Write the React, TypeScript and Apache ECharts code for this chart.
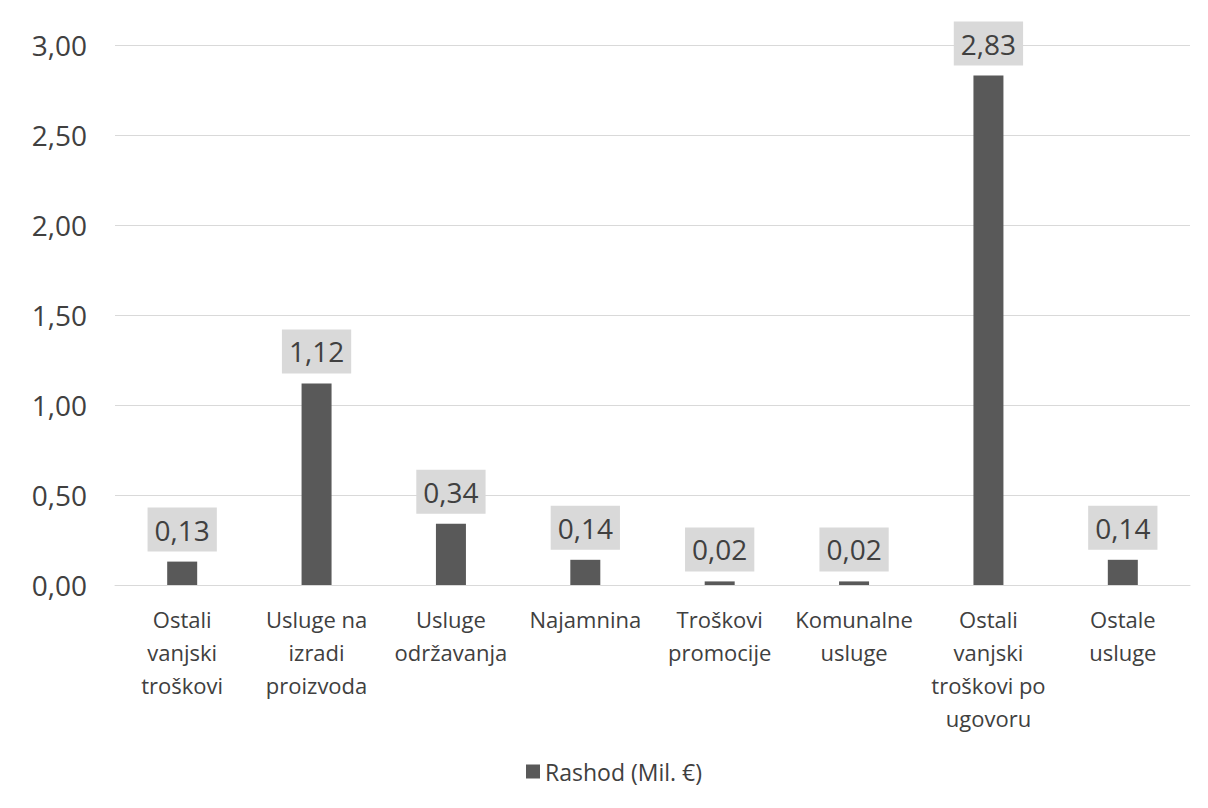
import React, { useEffect, useRef } from "react";
import * as echarts from "echarts";

const categories = [
  "Ostali\nvanjski\ntroškovi",
  "Usluge na\nizradi\nproizvoda",
  "Usluge\nodržavanja",
  "Najamnina",
  "Troškovi\npromocije",
  "Komunalne\nusluge",
  "Ostali\nvanjski\ntroškovi po\nugovoru",
  "Ostale\nusluge",
];
const values = [0.13, 1.12, 0.34, 0.14, 0.02, 0.02, 2.83, 0.14];
const seriesName = "Rashod (Mil. €)";

const fmt = (v: number) => v.toFixed(2).replace(".", ",");

export default function App() {
  const ref = useRef<HTMLDivElement>(null);
  useEffect(() => {
    if (!ref.current) return;
    const chart = echarts.init(ref.current, null, { renderer: "svg" });
    const font = "'Open Sans', sans-serif";
    chart.setOption({
      animation: false,
      backgroundColor: "#ffffff",
      textStyle: { fontFamily: font },
      grid: { left: 115, right: 18, top: 45, bottom: 223, containLabel: false },
      legend: {
        data: [seriesName],
        bottom: 20,
        left: 521,
        icon: "rect",
        itemWidth: 14,
        itemHeight: 14,
        itemGap: 8,
        textStyle: { fontSize: 23, color: "#404040", fontFamily: font },
      },
      xAxis: {
        type: "category",
        data: categories,
        axisLine: { lineStyle: { color: "#d9d9d9", width: 1 } },
        axisTick: { show: false },
        axisLabel: {
          interval: 0,
          fontSize: 22,
          lineHeight: 33,
          color: "#404040",
          margin: 17,
          fontFamily: font,
        },
      },
      yAxis: {
        type: "value",
        min: 0,
        max: 3,
        interval: 0.5,
        axisLine: { show: false },
        axisTick: { show: false },
        splitLine: { lineStyle: { color: "#d9d9d9", width: 1 } },
        axisLabel: {
          fontSize: 28,
          color: "#404040",
          margin: 28,
          fontFamily: font,
          formatter: (v: number) => fmt(v),
        },
      },
      series: [
        {
          name: seriesName,
          type: "bar",
          data: values,
          barWidth: 30,
          itemStyle: { color: "#595959" },
          label: {
            show: true,
            position: "top",
            distance: 10,
            fontSize: 28,
            lineHeight: 30,
            color: "#404040",
            fontFamily: font,
            backgroundColor: "#d9d9d9",
            padding: [7, 7, 7, 7],
            formatter: (p: any) => fmt(p.value),
          },
        },
      ],
    });
    return () => chart.dispose();
  }, []);
  return (
    <div
      ref={ref}
      style={{ position: "fixed", left: 0, top: 0, width: 1208, height: 808 }}
    />
  );
}
